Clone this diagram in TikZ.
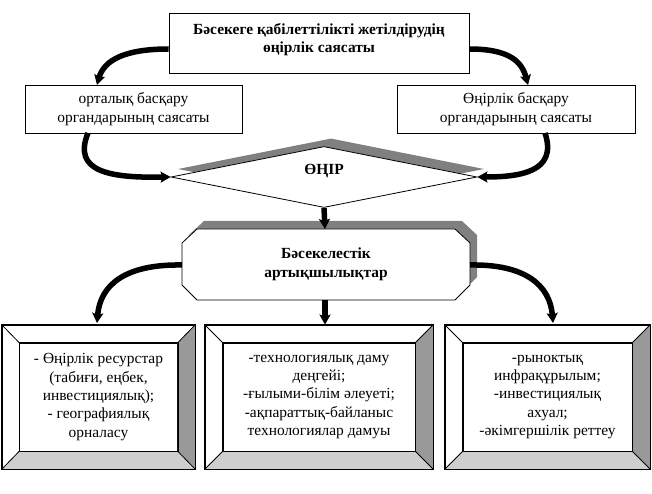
\documentclass[tikz,border=0pt]{standalone}
\usepackage{fontspec}
\setmainfont{Liberation Serif}
\usetikzlibrary{arrows.meta,shapes.geometric}
\definecolor{shad}{RGB}{128,128,128}
\definecolor{bevR}{RGB}{153,153,153}
\definecolor{bevB}{RGB}{206,206,206}
\newcommand\bevbox[8]{%
  \node[boxframe, minimum width=#4bp, minimum height=#5bp] (#1o) at (#2,#3) {};
  \node[boxframe, txt, minimum width=#6bp, minimum height=#7bp] (#1i) at (#2,#3) {#8};
  \fill[bevR] (#1o.north east) -- (#1o.south east) -- (#1i.south east) -- (#1i.north east) -- cycle;
  \fill[bevB] (#1o.south west) -- (#1o.south east) -- (#1i.south east) -- (#1i.south west) -- cycle;
  \draw[thinline] (#1o.north west) rectangle (#1o.south east);
  \draw[thinline] (#1i.north west) rectangle (#1i.south east);
  \draw[thinline] (#1o.north west) -- (#1i.north west);
  \draw[thinline] (#1o.north east) -- (#1i.north east);
  \draw[thinline] (#1o.south west) -- (#1i.south west);
  \draw[thinline] (#1o.south east) -- (#1i.south east);
}
\begin{document}
\begin{tikzpicture}[x=1bp,y=-1bp,
  txt/.style={font=\fontsize{15.5}{18.5}\selectfont, align=center},
  btxt/.style={font=\bfseries\fontsize{15.5}{18.5}\selectfont, align=center},
  boxframe/.style={draw, line width=0.8bp, fill=white, inner sep=0pt},
  bigarrow/.style={line width=5.5bp, -{Stealth[length=10bp,width=11bp,inset=2bp]}},
  thinline/.style={line width=0.8bp},
  dia/.style={diamond, minimum width=306bp, minimum height=61bp, inner sep=0pt, aspect=5},
]
\useasboundingbox (0,0) rectangle (652,494);

% top box
\node[boxframe, minimum width=300bp, minimum height=60bp] (top) at (319,43) {};
\node[btxt] (toptxt) at (319,39.5) {Бәсекеге қабілеттілікті жетілдірудің\\өңірлік саясаты};

% second row
\node[boxframe, txt, minimum width=217bp, minimum height=48bp] (lbox) at (133.5,109) {орталық басқару\\органдарының саясаты};
\node[boxframe, txt, minimum width=238bp, minimum height=48bp] (rbox) at (516,109) {Өңірлік басқару\\органдарының саясаты};

% diamond
\node[dia, fill=shad] (diash) at (331,169) {};
\node[dia, draw, thinline, fill=white] (dmd) at (324,177) {};
\node[btxt] (dmdtxt) at (324,171) {ӨҢІР};

% hexagon-like box
\fill[shad, shift={(7,-8)}] (182,243) -- (197,229) -- (455,229) -- (470,243) -- (470,285) -- (455,300) -- (197,300) -- (182,285) -- cycle;
\filldraw[thinline, fill=white] (182,243) -- (197,229) -- (455,229) -- (470,243) -- (470,285) -- (455,300) -- (197,300) -- (182,285) -- cycle;
\node[btxt] (hextxt) at (326,264.5) {Бәсекелестік\\артықшылықтар};
\coordinate (hexT) at (325,229);
\coordinate (hexB) at (325,300);
\coordinate (hexL) at (182,265);
\coordinate (hexR) at (470,265);

% bottom boxes
\bevbox{ba}{98.5}{397}{193}{144}{158}{108}{- Өңірлік ресурстар\\(табиғи, еңбек,\\инвестициялық);\\- географиялық\\орналасу}
\bevbox{bb}{319}{397}{228}{144}{192}{108}{-технологиялық даму\\деңгейі;\\-ғылыми-білім әлеуеті;\\-ақпараттық-байланыс\\технологиялар дамуы}
\bevbox{bc}{547.5}{397}{205}{144}{169}{108}{-рыноктық\\инфрақұрылым;\\-инвестициялық\\ахуал;\\-әкімгершілік реттеу}

% connectors
\draw[bigarrow] (top.west |- 0,49) .. controls (125,49) and (104,60) .. (97,85);
\draw[bigarrow] (top.east |- 0,49) .. controls (510,49) and (522,62) .. (528,85);
\draw[bigarrow] (88,133) .. controls (72,172) and (110,178) .. (dmd.west);
\draw[bigarrow] (545,133) .. controls (558,172) and (520,177) .. (dmd.east);
\draw[bigarrow] (dmd.south) -- (hexT);
\draw[bigarrow] (hexL) .. controls (125,264) and (100,285) .. (97,323);
\draw[bigarrow] (hexR) .. controls (525,264) and (550,285) .. (553,323);
\draw[bigarrow] (hexB) -- (hexB |- bbo.north);
\end{tikzpicture}
\end{document}
